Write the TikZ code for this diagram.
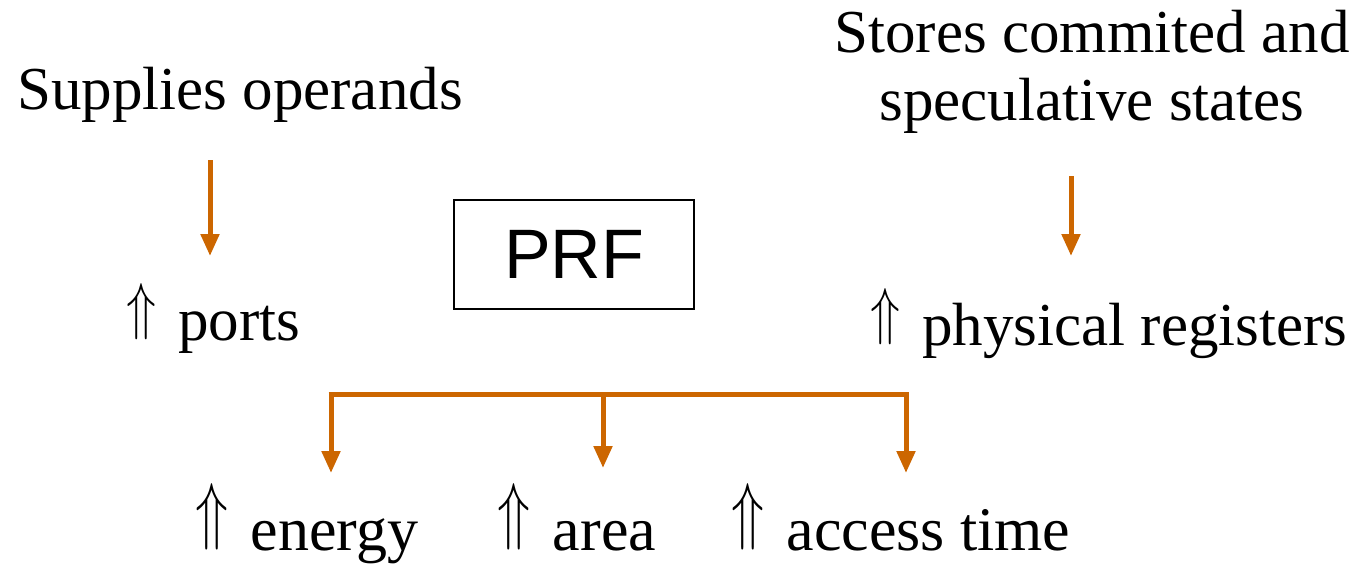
\documentclass[tikz,border=0pt]{standalone}
\usepackage{fontspec}
\usepackage{graphicx}
\setmainfont{Liberation Serif}
\newfontfamily\prffont{Liberation Sans}
\usetikzlibrary{arrows.meta}
\definecolor{arr}{HTML}{CC6600}
\newcommand\myUpTop{\raisebox{\depth}{\resizebox{15pt}{22pt}{$\Uparrow$}}\hspace{11pt}}
\newcommand\myUpBot{\raisebox{\depth}{\resizebox{16.5pt}{26pt}{$\Uparrow$}}\hspace{11pt}}
\tikzset{
  lbl/.style={font=\fontsize{30.5}{34}\selectfont, inner sep=0pt, align=center},
  lblb/.style={font=\fontsize{31}{34}\selectfont, inner sep=0pt, align=center},
  conn/.style={draw=arr, line width=2.5pt, -{Triangle[width=9pt,length=11pt]}},
  barline/.style={draw=arr, line width=2.5pt}
}
\begin{document}
\begin{tikzpicture}[x=0.5pt,y=-0.5pt]
\useasboundingbox (0,0) rectangle (1361,564);
\node[lbl] (sup) at (240,95) {Supplies operands};
\node[lbl] (sto) at (1092,72) {Stores commited and\\speculative states};
\node[lbl, anchor=base] (ports) at (213,340) {\myUpTop ports};
\node[lbl, anchor=base] (phys) at (1109,345) {\myUpTop physical registers};
\node[draw, line width=0.8pt, minimum width=120pt, minimum height=54.5pt, inner sep=0pt,
      font=\prffont\fontsize{35}{40}\selectfont] (prf) at (574,254.5) {PRF};
\node[lblb, anchor=base] (energy) at (307,550) {\myUpBot energy};
\node[lblb, anchor=base] (area) at (577,550) {\myUpBot area};
\node[lblb, anchor=base] (acc) at (901,550) {\myUpBot access time};
\coordinate (a1) at (210,160);
\coordinate (a1e) at (210,256);
\coordinate (a2) at (1071,176);
\coordinate (a2e) at (1071,256);
\draw[conn] (a1) -- (a1e);
\draw[conn] (a2) -- (a2e);
\coordinate (bl) at (331,394);
\coordinate (bm) at (603,394);
\coordinate (br) at (906,394);
\coordinate (el) at (331,473);
\coordinate (em) at (603,468);
\coordinate (er) at (906,473);
\draw[barline] ([xshift=-1.25pt]bl) -- ([xshift=1.25pt]br);
\draw[conn] (bl) -- (el);
\draw[conn] (bm) -- (em);
\draw[conn] (br) -- (er);
\end{tikzpicture}
\end{document}
